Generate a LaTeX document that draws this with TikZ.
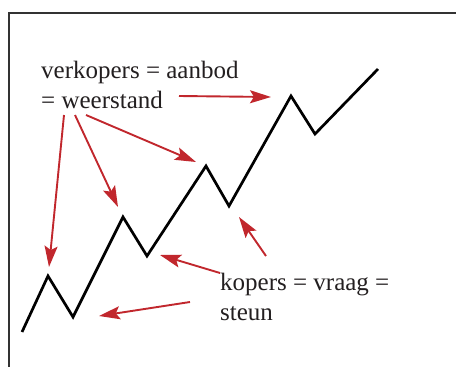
\documentclass[tikz,border=0pt]{standalone}
\usepackage{fontspec}
\setmainfont{Liberation Serif}
\usetikzlibrary{arrows.meta, positioning}
\definecolor{pijlrood}{RGB}{193,39,45}
\definecolor{tekstgrijs}{RGB}{35,31,32}

\begin{document}
\begin{tikzpicture}[x=1pt,y=-1pt,
	pijl/.style={draw=pijlrood, line width=1.9pt, -{Stealth[length=21pt,width=13pt,inset=4pt]}},
	label/.style={align=left, anchor=base west, inner sep=0pt, text=tekstgrijs, font=\fontsize{25}{30}\selectfont},
	koers/.style={draw=black, line width=2.7pt}]
		\useasboundingbox (0,0) rectangle (456,367);
		\draw[draw=black!80, line width=2pt] (9,367) -- (9,13) -- (456,13);

		% koerslijn: dalen (D_) en toppen (T_)
		\coordinate (BEGIN)	at (22,332);
		\coordinate (T_1)	at (48,276);
		\coordinate (D_1)	at (73,317);
		\coordinate (T_2)	at (123,217);
		\coordinate (D_2)	at (147,256);
		\coordinate (T_3)	at (206,166);
		\coordinate (D_3)	at (229,206);
		\coordinate (T_4)	at (291,96);
		\coordinate (D_4)	at (315,134);
		\coordinate (EIND)	at (378,69);
		\draw[koers] (BEGIN) -- (T_1) -- (D_1) -- (T_2) -- (D_2) -- (T_3) -- (D_3) -- (T_4) -- (D_4) -- (EIND);

		% base = basislijn van de laatste regel
		\node[label] (VERKOPERS)	at (41,108)	{verkopers = aanbod\\= weerstand};
		\node[label] (KOPERS)		at (220,320)	{kopers = vraag =\\steun};

		% pijlen
		\coordinate (V_A) at (179,96);	\coordinate (V_A_PT) at (271,97);
		\coordinate (V_B) at (64,115);	\coordinate (V_B_PT) at (49,267);
		\coordinate (V_C) at (75,115);	\coordinate (V_C_PT) at (118,207);
		\coordinate (V_D) at (86,115);	\coordinate (V_D_PT) at (196,162);
		\coordinate (K_A) at (266,256);	\coordinate (K_A_PT) at (239,217);
		\coordinate (K_B) at (220,273);	\coordinate (K_B_PT) at (160,255);
		\coordinate (K_C) at (190,302);	\coordinate (K_C_PT) at (99,316);

		\draw	(V_A)	edge[pijl]	(V_A_PT)
				(V_B)	edge[pijl]	(V_B_PT)
				(V_C)	edge[pijl]	(V_C_PT)
				(V_D)	edge[pijl]	(V_D_PT)
				(K_A)	edge[pijl]	(K_A_PT)
				(K_B)	edge[pijl]	(K_B_PT)
				(K_C)	edge[pijl]	(K_C_PT)
				;
\end{tikzpicture}
\end{document}
